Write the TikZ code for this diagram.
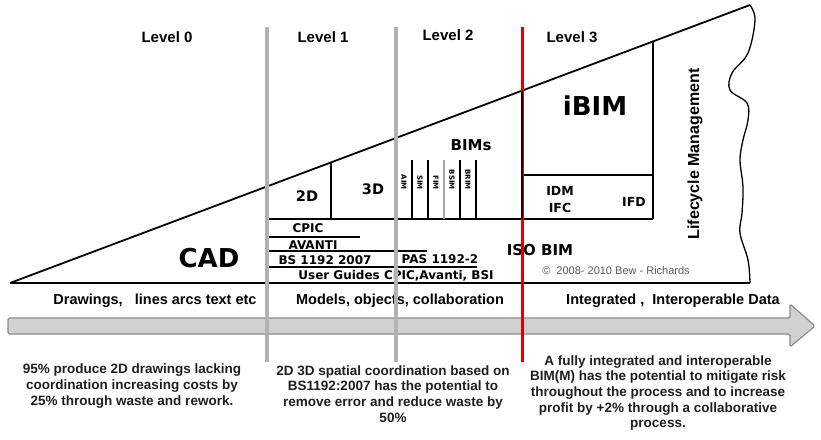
\documentclass[tikz,border=0pt]{standalone}
\usepackage{fontspec}
\setmainfont{Liberation Sans}
\newfontfamily\verd{DejaVu Sans}
\newcommand{\fsz}[1]{\fontsize{#1}{#1}\selectfont}
\begin{document}
\begin{tikzpicture}[x=1pt,y=-1pt,
  lev/.style={font=\bfseries\fsz{15}, inner sep=0pt},
  vb/.style={font=\verd\bfseries\fsz{12}, inner sep=0pt},
  vbig/.style={font=\verd\bfseries\fsz{26}, inner sep=0pt},
  small/.style={font=\verd\bfseries\fsz{7}, inner sep=0pt, rotate=-90, anchor=east},
  band/.style={font=\bfseries\fsz{14.5}, inner sep=0pt},
  para/.style={font=\bfseries\fontsize{13.5}{15.7}\selectfont, inner sep=0pt, align=center, text=black!88},
  blk/.style={black, line width=1.8pt},
  thin/.style={black, line width=1.4pt},
  grayline/.style={draw=black!30, line width=3.6pt},
  redline/.style={draw=red!90!black, line width=3pt},
]
\useasboundingbox (0,0) rectangle (821,439);
\fill[white] (0,0) rectangle (821,439);

% arrow
\filldraw[fill=black!18, draw=black!45, line width=1.2pt, rounded corners=1.5pt]
  (8,318) -- (790,318) -- (790,304) -- (815,326) -- (790,347) -- (790,334) -- (8,334) -- cycle;

% triangle
\draw[blk] (10,283) -- (750,5);
\draw[blk] (10,283) -- (750,283);
\draw[black, line width=1.3pt] plot[smooth, tension=0.6] coordinates {
  (750,5) (755,20) (748,53) (732,73) (730,90) (747,103) (748,120) (743,140)
  (740,160) (743,187) (742,213) (740,233) (748,260) (750,283)};

% level 1/2 structure
\draw[blk] (267,219) -- (653,219);
\draw[blk] (331,162.4) -- (331,219);
\foreach \xx in {412,428,460,476} \draw[thin] (\xx,160) -- (\xx,219);
\draw[black!35, line width=1.4pt] (444,160) -- (444,219);
\draw[thin] (268,237) -- (360,237);
\draw[thin] (268,251) -- (427,251);
\draw[thin] (268,267) -- (477,267);

% iBIM box (right part)
\draw[blk] (653,41.4) -- (653,219);
\draw[blk] (522,175) -- (653,175);

% texts
\node[lev] (l0) at (167,37) {Level 0};
\node[lev] (l1) at (323,37) {Level 1};
\node[lev] (l2) at (448,35) {Level 2};
\node[lev] (l3) at (572,37) {Level 3};

\node[vbig] (cad) at (209,258) {CAD};
\node[vbig] (ibim) at (595,106) {iBIM};
\node[vb, font=\verd\bfseries\fsz{14.5}] (d2) at (307,196) {2D};
\node[vb, font=\verd\bfseries\fsz{14.5}] (d3) at (373,189) {3D};
\node[vb, font=\verd\bfseries\fsz{15}] (bims) at (471,145) {BIMs};
\node[small] (aim) at (404,190) {AIM};
\node[small] (sim) at (420,190) {SIM};
\node[small] (fim) at (436,190) {FIM};
\node[small] (bsim) at (452,190) {BSIM};
\node[small] (brim) at (468,190) {BRIM};

\node[vb, font=\verd\bfseries\fsz{12.5}] (idm) at (560,191) {IDM};
\node[vb, font=\verd\bfseries\fsz{12.5}] (ifc) at (560,208) {IFC};
\node[vb, font=\verd\bfseries\fsz{12.5}] (ifd) at (634,202) {IFD};
\node[lev, font=\bfseries\fsz{16}, rotate=90] (lm) at (695,154) {Lifecycle Management};

\node[vb] (cpic) at (308,228) {CPIC};
\node[vb] (avanti) at (313,245) {AVANTI};
\node[vb] (bs) at (325,260) {BS 1192 2007};
\node[vb] (pas) at (440,259) {PAS 1192-2};
\node[vb] (ug) at (396,276) {User Guides CPIC,Avanti, BSI};
\node[vb, font=\verd\bfseries\fsz{15}] (iso) at (540,250) {ISO BIM};
\node[inner sep=0pt, font=\fsz{11}, text=black!65] (copy) at (616,271) {\textcopyright{}\ \ 2008- 2010 Bew - Richards};

\node[band] (b0) at (155,301) {Drawings,\ \ \ lines arcs text etc};
\node[band] (b1) at (400,301) {Models, objects, collaboration};
\node[band] (b3) at (673,301) {Integrated ,\ \ Interoperable Data};

\node[para] (p0) at (132,386) {95\% produce 2D drawings lacking\\coordination increasing costs by\\25\% through waste and rework.};
\node[para] (p1) at (393,394) {2D 3D spatial coordination based on\\BS1192:2007 has the potential to\\remove error and reduce waste by\\50\%};
\node[para] (p3) at (658,393) {A fully integrated and interoperable\\BIM(M) has the potential to mitigate risk\\throughout the process and to increase\\profit by +2\% through a collaborative\\process.};

% level dividers
\draw[grayline] (267,27) -- (267,362);
\draw[grayline] (396,27) -- (396,362);
\draw[redline] (522,27) -- (522,362);
\draw[blk] (522,90.7) -- (522,219);
\end{tikzpicture}
\end{document}
